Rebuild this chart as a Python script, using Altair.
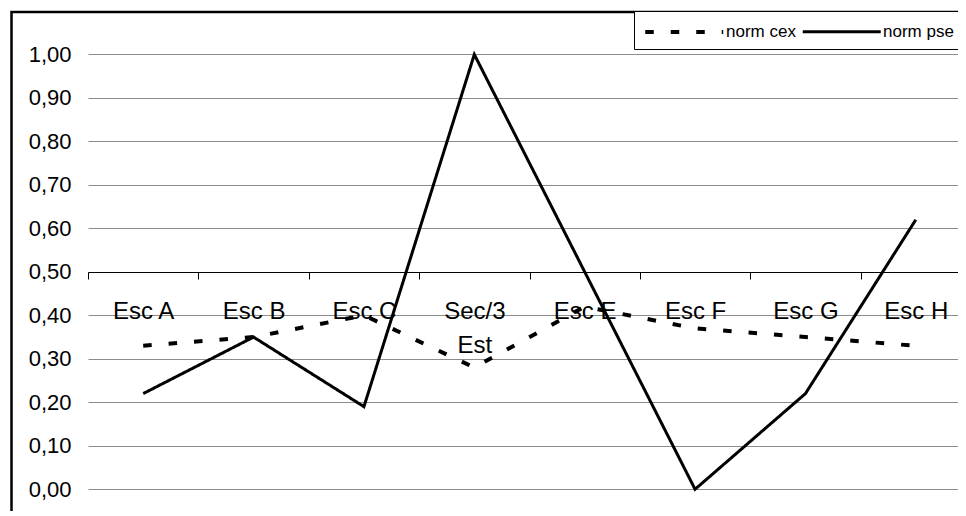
import altair as alt
import pandas as pd

categories = ["Esc A", "Esc B", "Esc C", "Sec/3 Est", "Esc E", "Esc F", "Esc G", "Esc H"]
norm_cex = [0.33, 0.35, 0.40, 0.28, 0.42, 0.37, 0.35, 0.33]
norm_pse = [0.22, 0.35, 0.19, 1.00, 0.50, 0.00, 0.22, 0.62]
series_names = ["norm cex", "norm pse"]
y_ticks = [0.0, 0.1, 0.2, 0.3, 0.4, 0.5, 0.6, 0.7, 0.8, 0.9, 1.0]

rows = []
for name, vals in zip(series_names, [norm_cex, norm_pse]):
    for c, v in zip(categories, vals):
        rows.append({"cat": c, "series": name, "value": v})
df = pd.DataFrame(rows)

FONT = "Liberation Sans"

x_enc = alt.X(
    "cat:N",
    sort=categories,
    title=None,
    bandPosition=0.5,
    scale=alt.Scale(type="band", domain=categories, range=[0, 883],
                    paddingInner=0, paddingOuter=0),
    axis=alt.Axis(
        orient="bottom", offset=-239, grid=False,
        domainColor="black", domainWidth=1,
        tickColor="black", tickSize=7, tickWidth=1, tickBand="extent",
        labelFont=FONT, labelFontSize=24, labelColor="black", labelAngle=0,
        labelBaseline="top", labelPadding=20, labelLineHeight=34,
        labelOverlap=False, labelBound=False, labelFlush=False,
        labelExpr="datum.label == 'Sec/3 Est' ? ['Sec/3', 'Est'] : datum.label",
    ),
)

y_enc = alt.Y(
    "value:Q",
    title=None,
    scale=alt.Scale(domain=[-0.05, 1.1], nice=False, zero=False),
    axis=alt.Axis(
        values=y_ticks, domain=False, ticks=False,
        grid=True, gridColor="#8c8c8c", gridWidth=1,
        labelFont=FONT, labelFontSize=22, labelColor="black", labelPadding=17,
        labelExpr="replace(format(datum.value, '.2f'), '.', ',')",
    ),
)

legend = alt.Legend(
    title=None, orient="none", legendX=546, legendY=0, direction="horizontal",
    symbolType="M-1,0H7", symbolSize=380, symbolStrokeColor="black",
    labelFont=FONT, labelFontSize=17, labelColor="black",
    strokeColor="black", fillColor="white", padding=9,
    columnPadding=0, labelOffset=59,
)

lines = alt.Chart(df).mark_line(color="black").encode(
    x=x_enc,
    y=y_enc,
    strokeDash=alt.StrokeDash("series:N",
                              scale=alt.Scale(domain=series_names, range=[[8.5, 17], [1, 0]]),
                              legend=legend),
    strokeWidth=alt.StrokeWidth("series:N",
                                scale=alt.Scale(domain=series_names, range=[4, 3]),
                                legend=legend),
)

border = alt.Chart(pd.DataFrame({"a": [0]})).mark_rect(
    fillOpacity=0, stroke="black", strokeWidth=2.5
).encode(
    x=alt.value(-76.5), x2=alt.value(1200), y=alt.value(1), y2=alt.value(900)
)

chart = alt.layer(border, lines).properties(
    width=870, height=500,
    autosize=alt.AutoSizeParams(type="none"),
    padding={"left": 80, "top": 3, "right": 0, "bottom": 0},
    background="white",
).configure_view(strokeWidth=0)

chart.save("out.html", embed_options={"renderer": "svg", "actions": False})
